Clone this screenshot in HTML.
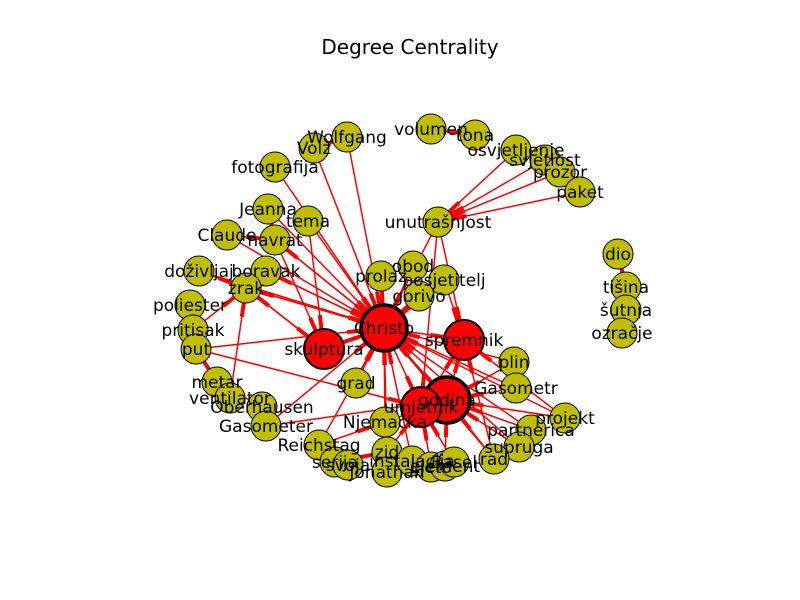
<!DOCTYPE html>
<html><head><meta charset="utf-8"><style>
html,body{margin:0;padding:0;background:#fff;}
svg{display:block;font-family:"DejaVu Sans","Liberation Sans",sans-serif;}
</style></head><body>
<svg id="chart" width="800" height="600" viewBox="0 0 800 600">
<rect width="800" height="600" fill="#fff"/>
<text x="410" y="54" font-size="20" text-anchor="middle">Degree Centrality</text>
<g id="edges"></g>
<g id="nodes"></g>
<g id="labels"></g>
</svg>
<script>
const nodeNames = ["Christo","skulptura","spremnik","godina","umjetnik","volumen","tona","osvjetljenje","svjetlost","prozor","paket","Wolfgang","Volz","fotografija","Jeanna","tema","Claude","navrat","doživljaj","boravak","zrak","poliester","pritisak","put","unutrašnjost","prolaz","obod","posjetitelj","gorivo","dio","tišina","šutnja","ozračje","plin","Gasometr","grad","metar","ventilator","Oberhausen","Gasometer","projekt","partnerica","supruga","rad","Njemačka","Reichstag","serija","svoja","zid","Jonathan","instalacija","Ljeto","element","Basel"];
const nodeX = [384,324,464,447,421,431,475,516,545,560,580,347,314,275,268,308,227,275,199,266,246,190,193,196,438,381,413,444,419,618,626,626,622,514,516,356,217,230,262,266,565,531,519,494,385,319,335,348,387,387,412,431,445,454];
const nodeY = [328,349,340,400,407,129,135,150,160,172,192,137,148,167,209,221,235,240,271,271,288,305,330,349,222,276,266,280,296,254,287,310,333,362,388,383,382,398,407,426,418,430,447,459,422,445,462,465,452,472,461,467,466,462];
const nodeLabels = ["Christo","skulptura","spremnik","godina","umjetnik","volumen","tona","osvjetljenje","svjetlost","prozor","paket","Wolfgang","Volz","fotografija","Jeanna","tema","Claude","navrat","doživljaj","boravak","zrak","poliester","pritisak","put","unutrašnjost","prolaz","obod","posjetitelj","gorivo","dio","tišina","šutnja","ozračje","plin","Gasometr","grad","metar","ventilator","Oberhausen","Gasometer","projekt","partnerica","supruga","rad","Njemačka","Reichstag","serija","svoja","zid","Jonathan","instalacija","Ljeto","element","Basel"];
const centralNodes = ["Christo","skulptura","spremnik","godina","umjetnik"];
const edgeFrom = ["Wolfgang","Volz","fotografija","Jeanna","tema","Claude","navrat","doživljaj","boravak","zrak","prolaz","obod","gorivo","posjetitelj","unutrašnjost","grad","Njemačka","zid","instalacija","Reichstag","put","Gasometer","plin","Gasometr","projekt","partnerica","rad","supruga","Christo","Christo","Christo","Christo","Christo","Christo","Christo","osvjetljenje","svjetlost","prozor","paket","volumen","Volz","dio","boravak","zrak","Claude","Jeanna","doživljaj","pritisak","metar","Oberhausen","ventilator","put","Gasometer","Reichstag","serija","zid","Basel","rad","projekt","partnerica","supruga","Gasometr","plin","projekt","rad","Njemačka","element","Ljeto","unutrašnjost","unutrašnjost","posjetitelj","godina","godina","skulptura","skulptura","umjetnik","zrak","tema","navrat"];
const edgeTo = ["Christo","Christo","Christo","Christo","Christo","Christo","Christo","Christo","Christo","Christo","Christo","Christo","Christo","Christo","Christo","Christo","Christo","Christo","Christo","Christo","Christo","Christo","Christo","Christo","Christo","Christo","Christo","Christo","skulptura","spremnik","godina","umjetnik","zrak","boravak","navrat","unutrašnjost","unutrašnjost","unutrašnjost","unutrašnjost","tona","Wolfgang","tišina","zrak","skulptura","navrat","navrat","zrak","zrak","put","metar","zrak","umjetnik","godina","Njemačka","zid","umjetnik","umjetnik","godina","godina","godina","godina","godina","godina","spremnik","spremnik","godina","godina","umjetnik","spremnik","umjetnik","spremnik","spremnik","Christo","Christo","zrak","spremnik","boravak","skulptura","skulptura"];

const SVGNS="http://www.w3.org/2000/svg";
const radius = n => n==="Christo"||n==="godina" ? 23 : (centralNodes.includes(n) ? 20 : 15);
const pos = n => { const i=nodeNames.indexOf(n); return [nodeX[i],nodeY[i]]; };
const eg=document.getElementById('edges');
for(let k=0;k<edgeFrom.length;k++){
  const [x1,y1]=pos(edgeFrom[k]), [x2,y2]=pos(edgeTo[k]);
  const dx=x2-x1, dy=y2-y1, L=Math.hypot(dx,dy)||1, ux=dx/L, uy=dy/L, r=radius(edgeTo[k]);
  const ex=x2-ux*r, ey=y2-uy*r;
  const line=document.createElementNS(SVGNS,'line');
  
  
  line.setAttribute('x1',x1);line.setAttribute('y1',y1);line.setAttribute('x2',ex);line.setAttribute('y2',ey);
  line.setAttribute('stroke','#ff0000');line.setAttribute('stroke-width','1.5');
  eg.appendChild(line);
  const head=document.createElementNS(SVGNS,'line');
  
  
  head.setAttribute('x1',ex-ux*Math.min(14,L*0.3));head.setAttribute('y1',ey-uy*Math.min(14,L*0.3));
  head.setAttribute('x2',ex);head.setAttribute('y2',ey);
  head.setAttribute('stroke','#ff0000');head.setAttribute('stroke-width','4');
  eg.appendChild(head);
}
const ng=document.getElementById('nodes'), lg=document.getElementById('labels');
const order=nodeNames.map((n,i)=>i).sort((a,b)=>(centralNodes.includes(nodeNames[a])?1:0)-(centralNodes.includes(nodeNames[b])?1:0));
for(const i of order){
  const n=nodeNames[i], c=document.createElementNS(SVGNS,'circle');
  
  
  c.setAttribute('cx',nodeX[i]);c.setAttribute('cy',nodeY[i]);c.setAttribute('r',radius(n));
  const central=centralNodes.includes(n);
  c.setAttribute('fill',central?'#ff0000':'#bfbf00');
  c.setAttribute('stroke','#000');
  c.setAttribute('stroke-width',(n==="Christo"||n==="godina")?3.5:(central?2:1));
  ng.appendChild(c);
}
for(let i=0;i<nodeNames.length;i++){
  const t=document.createElementNS(SVGNS,'text');
  
  
  t.setAttribute('x',nodeX[i]);t.setAttribute('y',nodeY[i]+6);
  t.setAttribute('text-anchor','middle');t.setAttribute('font-size','17');t.setAttribute('fill','#000');
  t.textContent=nodeLabels[i];
  lg.appendChild(t);
}
</script>
</body></html>
